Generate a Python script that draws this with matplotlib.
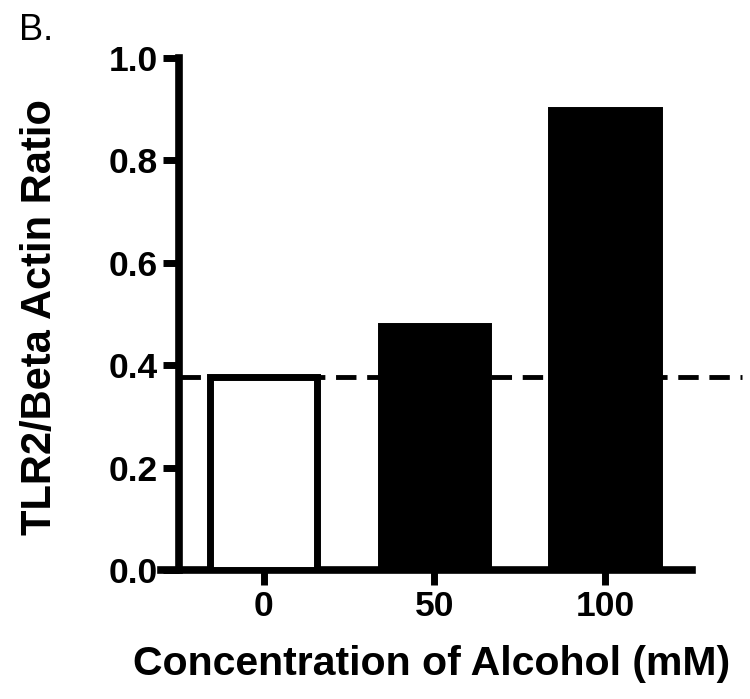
import matplotlib
matplotlib.use('Agg')
import matplotlib.pyplot as plt

plt.rcParams['font.family'] = ['Liberation Sans', 'DejaVu Sans']

# data
concentrations = ['0', '50', '100']
ratios = [0.377, 0.476, 0.898]
face_colors = ['white', 'black', 'black']
baseline = 0.377

fig = plt.figure(figsize=(7.5, 6.99), dpi=100)
ax = fig.add_axes([0.215, 0.1845, 0.708, 0.7325])

x = range(len(concentrations))
ax.bar(x, ratios, width=0.63, color=face_colors, edgecolor='black',
       linewidth=5, zorder=3)

# control level, dashed, running past the axis end
ax.plot([-0.49, 2.8], [baseline, baseline], color='black', lw=3.5,
        dashes=(4.2, 2.2), zorder=2, clip_on=False)

ax.set_xlim(-0.6, 2.51)
ax.set_ylim(0, 1.0)
ax.set_xticks(list(x))
ax.set_xticklabels(concentrations)
ax.set_yticks([0.0, 0.2, 0.4, 0.6, 0.8, 1.0])
ax.set_yticklabels(['0.0', '0.2', '0.4', '0.6', '0.8', '1.0'])

for s in ['top', 'right']:
    ax.spines[s].set_visible(False)
ax.spines['left'].set_position(('data', -0.495))
ax.spines['left'].set_linewidth(5.5)
ax.spines['bottom'].set_linewidth(5.5)
ax.spines['left'].set_capstyle('projecting')

ax.tick_params(axis='y', length=11.5, width=5, labelsize=25.5, pad=4)
ax.tick_params(axis='x', length=11, width=5, labelsize=25.5, pad=3.5)
for lab in ax.get_xticklabels() + ax.get_yticklabels():
    lab.set_fontweight('bold')

fig.text(40 / 750, 1 - 317 / 699, 'TLR2/Beta Actin Ratio', fontsize=30,
         fontweight='bold', rotation=90, ha='center', va='center')
fig.text(432 / 750, 1 - 664 / 699, 'Concentration of Alcohol (mM)', fontsize=29.5,
         fontweight='bold', ha='center', va='center')

fig.text(19 / 750, 1 - 30 / 699, 'B.', fontsize=26, ha='left', va='center')

fig.savefig('out.png', dpi=100)
